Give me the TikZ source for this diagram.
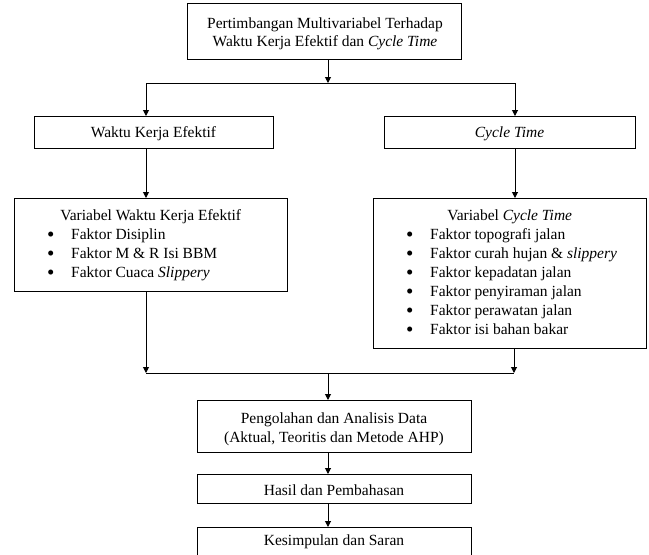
\documentclass[tikz,border=0pt]{standalone}
\usepackage{fontspec}
\setmainfont{Liberation Serif}
\usetikzlibrary{arrows.meta,calc}
\newcommand{\bulitem}[1]{\par\noindent\hspace*{33pt}\makebox[24pt][l]{\raisebox{-2pt}{\fontsize{21}{19}\selectfont •}}#1}
\tikzset{
  box/.style={draw, line width=1pt, inner sep=0pt, anchor=north west},
  txt/.style={inner sep=0pt, anchor=base},
  listtxt/.style={inner sep=0pt, anchor=base west},
  arr/.style={-{Triangle[length=6pt,width=6pt]}, line width=1pt},
  ln/.style={line width=1pt}
}
\begin{document}
\begin{tikzpicture}[x=1pt,y=-1pt,font=\fontsize{15.5}{19}\selectfont]
\useasboundingbox (0,0) rectangle (649,555);
% boxes
\node[box, minimum width=274pt, minimum height=56pt] (top) at (187,3) {};
\node[box, minimum width=239pt, minimum height=32pt] (wke) at (34,116) {};
\node[box, minimum width=251pt, minimum height=32pt] (ct) at (384,116) {};
\node[box, minimum width=273pt, minimum height=93pt] (vke) at (14,198) {};
\node[box, minimum width=273pt, minimum height=150pt] (vct) at (373,198) {};
\node[box, minimum width=274pt, minimum height=52pt] (pad) at (197,400) {};
\node[box, minimum width=274pt, minimum height=29pt] (hp) at (197,474) {};
\node[box, minimum width=274pt, minimum height=34pt] (ks) at (197,527) {};
% texts
\node[txt] (toptxt) at (325,28) {\renewcommand\arraystretch{0.96}\begin{tabular}[t]{@{}c@{}}Pertimbangan Multivariabel Terhadap\\Waktu Kerja Efektif dan \textit{Cycle Time}\end{tabular}};
\node[txt] (wketxt) at (153.5,137) {Waktu Kerja Efektif};
\node[txt] (cttxt) at (509.5,137) {\textit{Cycle Time}};
\node[listtxt] (vketxt) at (14,220) {\begin{minipage}[t]{273pt}\centering Variabel Waktu Kerja Efektif\par\raggedright
\bulitem{Faktor Disiplin}
\bulitem{Faktor M \& R Isi BBM}
\bulitem{Faktor Cuaca \textit{Slippery}}\end{minipage}};
\node[listtxt] (vcttxt) at (373,220) {\begin{minipage}[t]{273pt}\centering Variabel \textit{Cycle Time}\par\raggedright
\bulitem{Faktor topografi jalan}
\bulitem{Faktor curah hujan \& \textit{slippery}}
\bulitem{Faktor kepadatan jalan}
\bulitem{Faktor penyiraman jalan}
\bulitem{Faktor perawatan jalan}
\bulitem{Faktor isi bahan bakar}\end{minipage}};
\node[txt] (padtxt) at (334,423) {\begin{tabular}[t]{@{}c@{}}Pengolahan dan Analisis Data\\(Aktual, Teoritis dan Metode AHP)\end{tabular}};
\node[txt] (hptxt) at (334,495) {Hasil dan Pembahasan};
\node[txt] (kstxt) at (334,545.5) {Kesimpulan dan Saran};
% junctions
\coordinate (s1) at (328,83);
\coordinate (s1l) at (146,83);
\coordinate (s1r) at (515,83);
\coordinate (s2) at (328,373);
\coordinate (s2l) at (146,373);
\coordinate (s2r) at (514,373);
% connectors
\draw[arr] (top.south -| s1) -- (s1);
\draw[ln] (s1l) -- (s1r);
\draw[arr] (s1l) -- (wke.north -| s1l);
\draw[arr] (s1r) -- (ct.north -| s1r);
\draw[arr] (wke.south -| s1l) -- (vke.north -| s1l);
\draw[arr] (ct.south -| s1r) -- (vct.north -| s1r);
\draw[arr] (vke.south -| s2l) -- (s2l);
\draw[arr] (vct.south -| s2r) -- (s2r);
\draw[ln] (s2l) -- (s2r);
\draw[arr] (s2) -- (pad.north -| s2);
\draw[arr] (pad.south -| s2) -- (hp.north -| s2);
\draw[arr] (hp.south -| s2) -- (ks.north -| s2);
\end{tikzpicture}
\end{document}
